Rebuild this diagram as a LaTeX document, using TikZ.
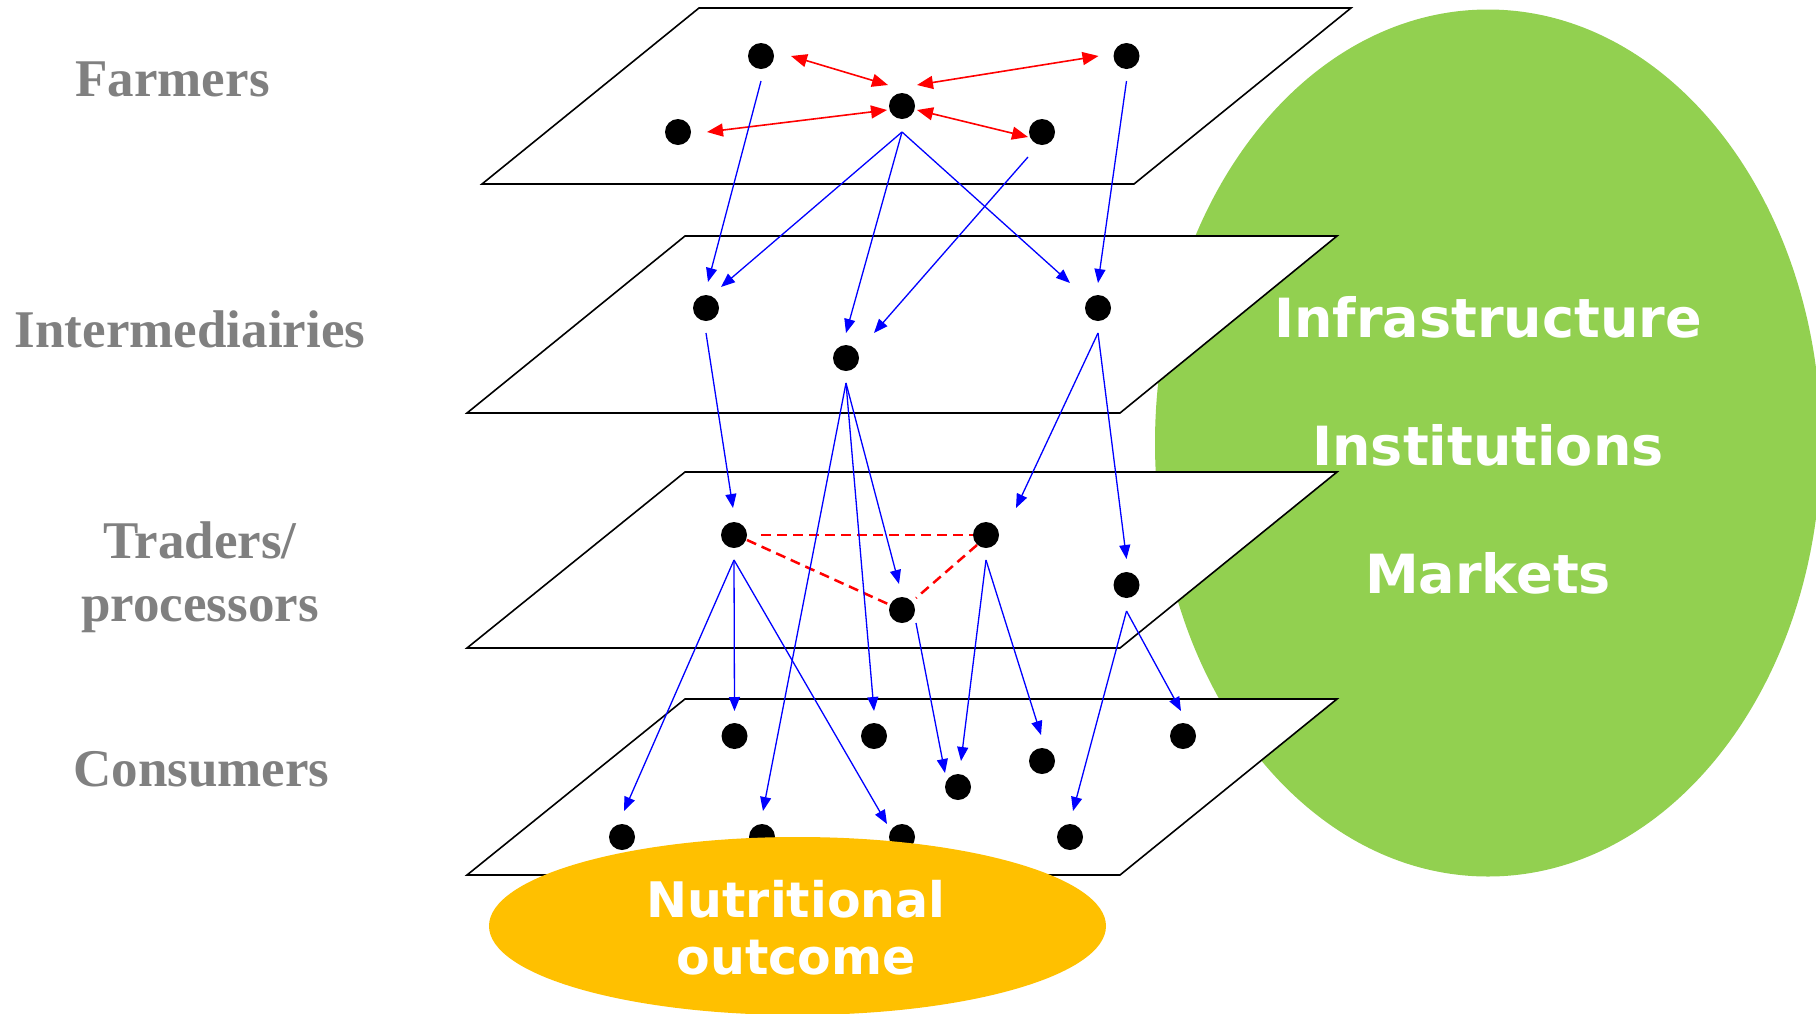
\documentclass[tikz,border=0pt]{standalone}
\usepackage{fontspec}
\usetikzlibrary{arrows.meta,calc,shapes.geometric}
\newfontfamily\lblfont{Liberation Serif}
\newfontfamily\vfont{DejaVu Sans}
\definecolor{lblgray}{HTML}{808080}
\definecolor{leafgreen}{HTML}{92D050}
\definecolor{amber}{HTML}{FFC000}
\begin{document}
\begin{tikzpicture}[x=1pt,y=-1pt,
  dot/.style={circle,fill=black,inner sep=0pt,minimum size=26pt},
  plane/.style={draw=black,fill=white,line width=1.6pt,line join=miter},
  flow/.style={draw=blue,line width=1.3pt,-{Triangle[length=14pt,width=11pt]}},
  link/.style={draw=red,line width=1.6pt,{Triangle[length=16pt,width=13pt]}-{Triangle[length=16pt,width=13pt]}},
  tie/.style={draw=red,line width=2.5pt,dash pattern=on 10pt off 6pt},
  layer/.style={font=\lblfont\bfseries\fontsize{53}{63}\selectfont,text=lblgray,anchor=base,align=center,inner sep=0pt},
  ctx/.style={font=\vfont\bfseries\fontsize{54}{65}\selectfont,text=white,anchor=base,inner sep=0pt},
  outc/.style={font=\vfont\bfseries\fontsize{49}{57}\selectfont,text=white,align=center,inner sep=0pt}
]
\path[use as bounding box] (0,0) rectangle (1816,1013);
\clip (0,0) rectangle (1816,1013);

% context ellipse
\node[ellipse,fill=leafgreen,minimum width=666pt,minimum height=867pt,inner sep=0pt] (env) at (1488,443) {};

% planes
\draw[plane] (699,8) -- (1351,8) -- (1134,184) -- (482,184) -- cycle;
\draw[plane] (685,236) -- (1337,236) -- (1120,413) -- (467,413) -- cycle;
\draw[plane] (685,472) -- (1337,472) -- (1120,648) -- (467,648) -- cycle;
\draw[plane] (685,699) -- (1337,699) -- (1120,875) -- (467,875) -- cycle;

% dots
\node[dot] (F1) at (761,56) {};
\node[dot] (F2) at (1126.5,56) {};
\node[dot] (F3) at (902,106) {};
\node[dot] (F4) at (678,132) {};
\node[dot] (F5) at (1042,132) {};
\node[dot] (I1) at (706,308) {};
\node[dot] (I2) at (846,358) {};
\node[dot] (I3) at (1098,308) {};
\node[dot] (T1) at (734,535) {};
\node[dot] (T2) at (986,535) {};
\node[dot] (T3) at (902,610) {};
\node[dot] (T4) at (1126.5,585) {};
\node[dot] (C1) at (734.5,736) {};
\node[dot] (C2) at (874,736) {};
\node[dot] (C3) at (1183,736) {};
\node[dot] (C4) at (1042,761) {};
\node[dot] (C5) at (958,787) {};
\node[dot] (C6) at (622,837) {};
\node[dot] (C7) at (762,837) {};
\node[dot] (C8) at (902,837) {};
\node[dot] (C9) at (1070,837) {};

% farmer links
\draw[link] ($(F1)+(30,0)$) -- ($(F3)+(-14,-21)$);
\draw[link] ($(F3)+(15,-21)$) -- ($(F2)+(-28,0)$);
\draw[link] ($(F4)+(29,0)$) -- ($(F3)+(-15,4)$);
\draw[link] ($(F3)+(15,4)$) -- ($(F5)+(-14,5)$);

% trader ties
\draw[tie] ($(T1)+(27,0)$) -- ($(T2)+(-13,0)$);
\draw[tie] ($(T1)+(13,5)$) -- ($(T3)+(-14,-6)$);
\draw[tie] ($(T2)+(-9,10)$) -- ($(T3)+(14,-12)$);

% flows
\draw[flow] ($(F1)+(0,25)$) -- ($(I1)+(2,-26)$);
\draw[flow] ($(F3)+(0,26)$) -- ($(I1)+(15,-21)$);
\draw[flow] ($(F3)+(0,26)$) -- ($(I2)+(0,-25)$);
\draw[flow] ($(F3)+(0,26)$) -- ($(I3)+(-28,-25)$);
\draw[flow] ($(F5)+(-14,25)$) -- ($(I2)+(28,-25)$);
\draw[flow] ($(F2)+(0,25)$) -- ($(I3)+(0,-25)$);
\draw[flow] ($(I1)+(0,25)$) -- ($(T1)+(-1,-27)$);
\draw[flow] ($(I2)+(0,25)$) -- ($(T3)+(-3,-26)$);
\draw[flow] ($(I2)+(0,25)$) -- ($(C7)+(1,-26)$);
\draw[flow] ($(I2)+(0,25)$) -- ($(C2)+(0,-25)$);
\draw[flow] ($(I3)+(0,25)$) -- ($(T2)+(30,-27)$);
\draw[flow] ($(I3)+(0,25)$) -- ($(T4)+(0,-26)$);
\draw[flow] ($(T1)+(0,25)$) -- ($(C6)+(2,-26)$);
\draw[flow] ($(T1)+(0,25)$) -- ($(C1)+(0,-25)$);
\draw[flow] ($(T1)+(0,25)$) -- ($(C8)+(-15,-13)$);
\draw[flow] ($(T3)+(14,13)$) -- ($(C5)+(-13,-14)$);
\draw[flow] ($(T2)+(0,25)$) -- ($(C5)+(3,-26)$);
\draw[flow] ($(T2)+(0,25)$) -- ($(C4)+(-1,-26)$);
\draw[flow] ($(T4)+(0,26)$) -- ($(C9)+(3,-26)$);
\draw[flow] ($(T4)+(0,26)$) -- ($(C3)+(-2,-25)$);

% outcome ellipse
\node[ellipse,fill=amber,minimum width=617pt,minimum height=178pt,inner sep=0pt] (out) at (797.5,926) {};
\node[outc,anchor=base] (outtxt) at (796,974) {Nutritional\\outcome};

% context texts
\node[ctx] (infra) at (1488,337) {Infrastructure};
\node[ctx] (inst) at (1488,465) {Institutions};
\node[ctx] (mkt) at (1488,593) {Markets};

% layer labels
\node[layer] (lf) at (172.5,96) {Farmers};
\node[layer] (li) at (190,347.6) {Intermediairies};
\node[layer] (lt) at (200,621.8) {Traders/\\processors};
\node[layer] (lc) at (201.5,786) {Consumers};
\end{tikzpicture}
\end{document}
